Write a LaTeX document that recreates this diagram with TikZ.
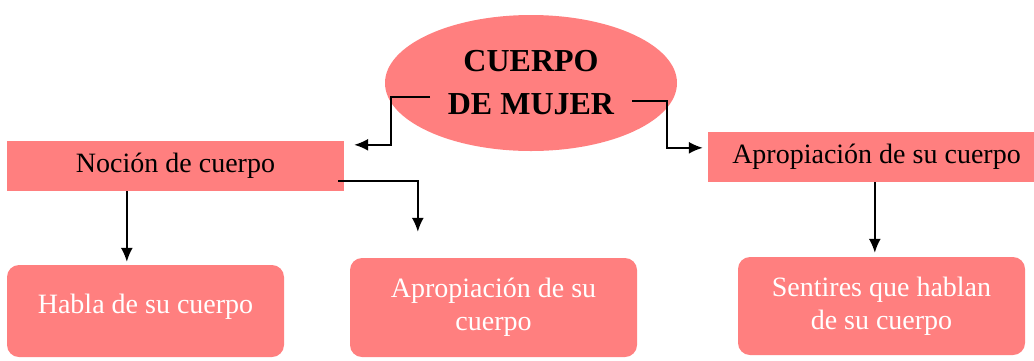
\documentclass[tikz,border=0pt]{standalone}
\usepackage{fontspec}
\setmainfont{Liberation Serif}
\usetikzlibrary{arrows.meta,calc,shapes.geometric}
\definecolor{salmon}{RGB}{255,127,127}
\begin{document}
\begin{tikzpicture}[x=1pt,y=-1pt,
  arr/.style={line width=1.8pt,-{Latex[length=14pt,width=12pt]}},
  flat/.style={fill=salmon,draw=none,inner sep=0pt,font=\fontsize{28}{33}\selectfont},
  bar/.style={flat,minimum width=337pt,minimum height=50pt},
  child/.style={flat,rounded corners=12pt,text=white,align=center},
  ]
\useasboundingbox (0,0) rectangle (1034,360);
\node[ellipse,fill=salmon,draw=none,minimum width=292pt,minimum height=136pt,inner sep=0pt,
  align=center,font=\bfseries\fontsize{32}{43}\selectfont] (title) at (531,83) {CUERPO\\DE MUJER};
\node[bar] (noc) at (175.5,166) {Noción de cuerpo};
\node[bar] (apr) at (876.5,157) {Apropiación de su cuerpo};
\node[child,minimum width=277pt,minimum height=92pt,text depth=15pt] (h1) at (145.5,311) {Habla de su cuerpo};
\node[child,minimum width=287pt,minimum height=99pt] (h2) at (493.5,307.5) {Apropiación de su\\cuerpo};
\node[child,minimum width=287pt,minimum height=98pt] (h3) at (881.5,306) {Sentires que hablan\\de su cuerpo};
\coordinate (tl) at ($(title.center)+(-101,14)$);
\coordinate (tr) at ($(title.center)+(101,18)$);
\coordinate (ns) at ($(noc.south east)+(-6,-10)$);
\draw[arr] (tl) -- ++(-39,0) |- ($(noc.north east)+(10,4)$);
\draw[arr] (tr) -- ++(35,0) |- ($(apr.north west)+(-5,16)$);
\draw[arr] (ns) -| ($(h2.north west)+(68,-26)$);
\draw[arr] ($(noc.south west)+(120,0)$) -- ($(h1.north west)+(120,-3)$);
\draw[arr] ($(apr.south west)+(167,0)$) -- ($(h3.north west)+(137,-4)$);
\end{tikzpicture}
\end{document}
